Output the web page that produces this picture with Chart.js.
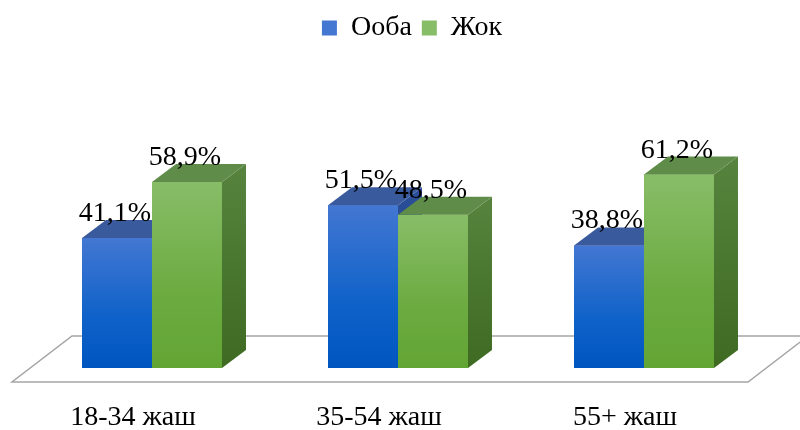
<!DOCTYPE html>
<html>
<head>
<meta charset="utf-8">
<script src="https://cdn.jsdelivr.net/npm/chart.js@4"></script>
<style>
  html, body { margin: 0; padding: 0; background: #fff; }
  #wrap { width: 800px; height: 430px; }
</style>
</head>
<body>
<div id="wrap"><canvas id="chart"></canvas></div>
<script>
const categories = ['18-34 жаш', '35-54 жаш', '55+ жаш'];
const seriesNames = ['Ооба', 'Жок'];
const yesValues = [41.1, 51.5, 38.8];
const noValues = [58.9, 48.5, 61.2];

// depth of the fake 3d boxes
const DX = 24, DY = 18;
const serif = "'Liberation Serif', 'Times New Roman', serif";

const palette = [
    { light: '#4377d2', mid: '#0f62c9', dark: '#0055bf', flat: '#1060c8', cap: '#3a5a9e', side: ['#2b4f98', '#1b3d82'] },
    { light: '#88bd68', mid: '#6cab40', dark: '#63a535', flat: '#70ad47', cap: '#5f8c49', side: ['#56843e', '#3e6a22'] }
];

function frontFill(context) {
    const c = palette[context.datasetIndex];
    const chart = context.chart;
    if (context.raw === undefined || !chart.chartArea) {
        return c.flat;
    }
    const y = chart.scales.y;
    const g = chart.ctx.createLinearGradient(0, y.getPixelForValue(context.raw), 0, y.getPixelForValue(0));
    g.addColorStop(0, c.light);
    g.addColorStop(0.6, c.mid);
    g.addColorStop(1, c.dark);
    return g;
}

function fmt(v) {
    return v.toFixed(1).replace('.', ',') + '%';
}

const floorPlugin = {
    id: 'floor',
    afterLayout(chart) {
        // legend sits a little right of centre in the original
        chart.legend.left += 14;
        chart.legend.right += 14;
    },
    beforeDatasetsDraw(chart) {
        const ctx = chart.ctx;
        const a = chart.chartArea;
        const base = chart.scales.y.getPixelForValue(0);
        ctx.save();
        ctx.beginPath();
        ctx.moveTo(a.left - 17, base + 14);
        ctx.lineTo(a.right - 19, base + 14);
        ctx.lineTo(a.right + 41, base - 32);
        ctx.lineTo(a.left + 43, base - 32);
        ctx.closePath();
        ctx.fillStyle = '#fff';
        ctx.fill();
        ctx.strokeStyle = '#a5a5a5';
        ctx.lineWidth = 1.5;
        ctx.stroke();
        ctx.restore();
    }
};

const depthPlugin = {
    id: 'depth',
    afterDatasetsDraw(chart) {
        const ctx = chart.ctx;
        ctx.save();
        // redraw series in index order so each box covers the side of the one before
        chart.data.datasets.forEach((ds, i) => {
            const c = palette[i];
            chart.getDatasetMeta(i).data.forEach(bar => {
                bar.draw(ctx);
                const l = bar.x - bar.width / 2;
                const r = bar.x + bar.width / 2;
                const t = bar.y;
                const b = bar.base;

                const g = ctx.createLinearGradient(0, t - DY, 0, b);
                g.addColorStop(0, c.side[0]);
                g.addColorStop(1, c.side[1]);
                ctx.fillStyle = g;
                ctx.beginPath();
                ctx.moveTo(r, t);
                ctx.lineTo(r + DX, t - DY);
                ctx.lineTo(r + DX, b - DY);
                ctx.lineTo(r, b);
                ctx.closePath();
                ctx.fill();

                ctx.fillStyle = c.cap;
                ctx.beginPath();
                ctx.moveTo(l, t);
                ctx.lineTo(l + DX, t - DY);
                ctx.lineTo(r + DX, t - DY);
                ctx.lineTo(r, t);
                ctx.closePath();
                ctx.fill();
            });
        });

        ctx.fillStyle = '#000';
        ctx.font = '28px ' + serif;
        ctx.textAlign = 'center';
        ctx.textBaseline = 'alphabetic';
        chart.data.datasets.forEach((ds, i) => {
            chart.getDatasetMeta(i).data.forEach((bar, j) => {
                ctx.fillText(fmt(ds.data[j]), bar.x - 2, bar.y - DY + 1);
            });
        });
        ctx.restore();
    }
};

new Chart(document.getElementById('chart'), {
    type: 'bar',
    data: {
        labels: categories,
        datasets: [
            { label: seriesNames[0], data: yesValues, backgroundColor: frontFill },
            { label: seriesNames[1], data: noValues, backgroundColor: frontFill }
        ]
    },
    options: {
        responsive: true,
        maintainAspectRatio: false,
        animation: false,
        layout: { padding: { left: 29, right: 33, top: 4, bottom: 0 } },
        datasets: { bar: { barPercentage: 1, categoryPercentage: 0.569, borderWidth: 0 } },
        plugins: {
            legend: {
                position: 'top',
                labels: {
                    font: { family: serif, size: 28 },
                    color: '#000',
                    boxWidth: 15,
                    boxHeight: 15,
                    padding: 10
                }
            },
            tooltip: { enabled: false }
        },
        scales: {
            x: {
                grid: { display: false, drawTicks: false },
                border: { display: false },
                ticks: {
                    font: { family: serif, size: 28, lineHeight: 1 },
                    color: '#000',
                    padding: 36,
                    labelOffset: -19
                },
                afterFit(scale) {
                    scale.height = 62;
                }
            },
            y: { display: false, min: 0, max: 100 }
        }
    },
    plugins: [floorPlugin, depthPlugin]
});
</script>
</body>
</html>
